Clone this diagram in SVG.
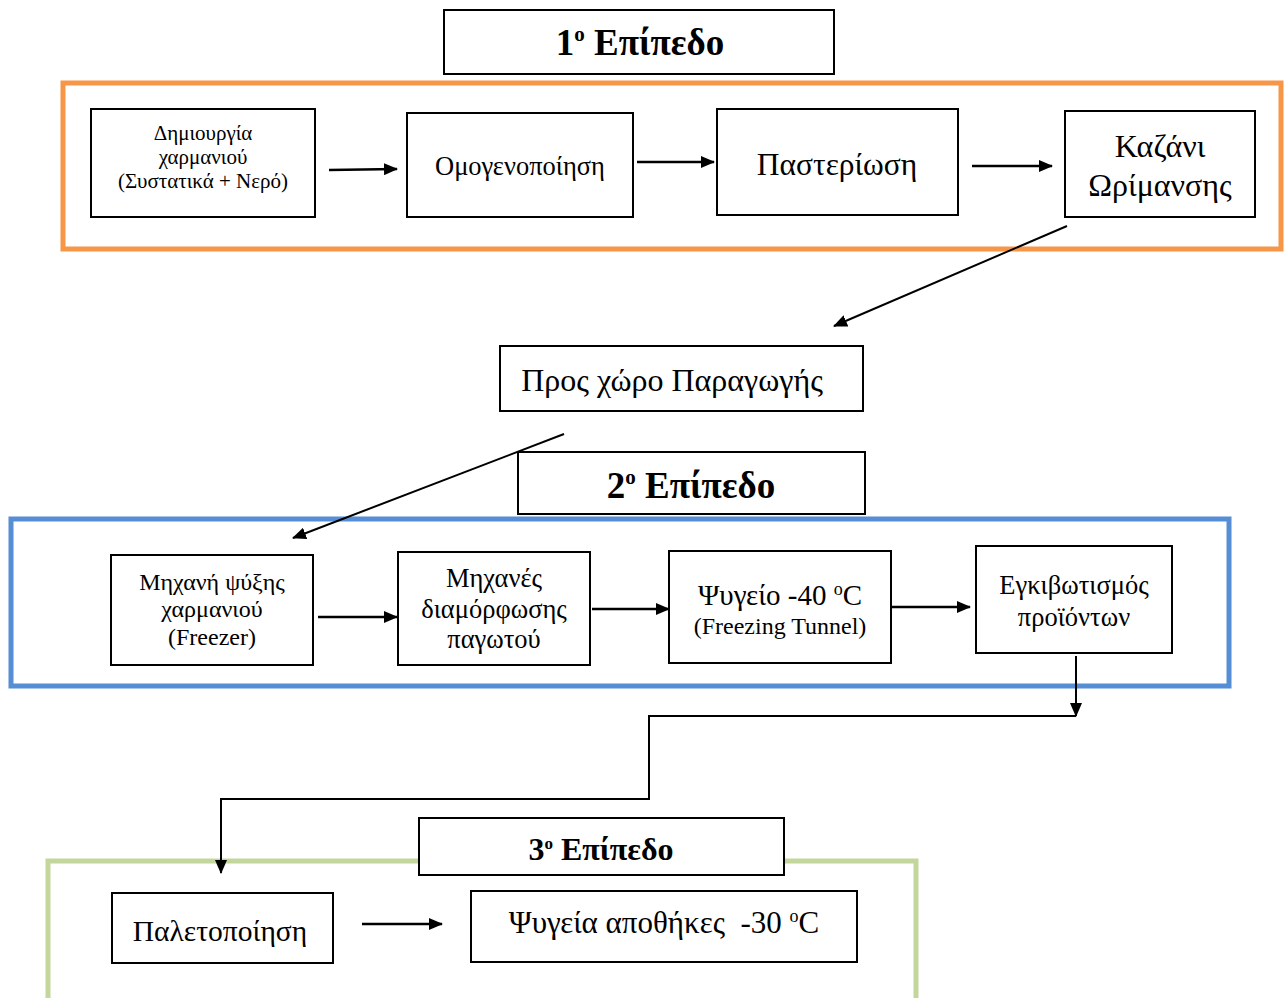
<svg xmlns="http://www.w3.org/2000/svg" width="1288" height="998" viewBox="0 0 1288 998">
<defs>
<marker id="ah" markerWidth="14" markerHeight="12" refX="13" refY="6" orient="auto" markerUnits="userSpaceOnUse">
<path d="M0,0 L14,6 L0,12 Z" fill="#000"/>
</marker>
<style>
.box{fill:#fff;stroke:#000;stroke-width:2}
.t{font-family:"Liberation Serif","Times New Roman",serif;fill:#000;text-anchor:middle}
.h{font-weight:bold}
.c{fill:none;stroke:#000;stroke-width:2.5}
.c2{fill:none;stroke:#000;stroke-width:2}
.frame{fill:none;stroke-width:5}
</style>
</defs>
<rect width="1288" height="998" fill="#fff"/>

<g id="frames">
<rect class="frame" x="63" y="83" width="1218" height="166" stroke="#F79646"/>
<rect class="frame" x="11" y="519" width="1218" height="167" stroke="#558ED5"/>
<path class="frame" d="M48,1000 V861 H916 V1000" stroke="#C3D69B"/>
</g>

<g id="title1">
<rect class="box" x="444" y="10" width="390" height="64"/>
<text class="t h" x="640" y="55" font-size="37">1<tspan font-size="21" dy="-14">ο</tspan><tspan dy="14"> Επίπεδο</tspan></text>
</g>

<g id="n1">
<rect class="box" x="91" y="109" width="224" height="108"/>
<text class="t" x="203" y="140" font-size="21">Δημιουργία</text>
<text class="t" x="203" y="164" font-size="21">χαρμανιού</text>
<text class="t" x="203" y="188" font-size="21">(Συστατικά + Νερό)</text>
</g>
<g id="n2">
<rect class="box" x="407" y="113" width="226" height="104"/>
<text class="t" x="520" y="175" font-size="26.5">Ομογενοποίηση</text>
</g>
<g id="n3">
<rect class="box" x="717" y="109" width="241" height="106"/>
<text class="t" x="837" y="175" font-size="31.5">Παστερίωση</text>
</g>
<g id="n4">
<rect class="box" x="1065" y="111" width="190" height="106"/>
<text class="t" x="1160" y="157" font-size="32">Καζάνι</text>
<text class="t" x="1160" y="196" font-size="32">Ωρίμανσης</text>
</g>

<g id="n5">
<rect class="box" x="500" y="346" width="363" height="65"/>
<text class="t" x="672" y="391" font-size="32">Προς χώρο Παραγωγής</text>
</g>

<g id="title2">
<rect class="box" x="518" y="452" width="347" height="62"/>
<text class="t h" x="691" y="498" font-size="37">2<tspan font-size="21" dy="-14">ο</tspan><tspan dy="14"> Επίπεδο</tspan></text>
</g>

<g id="n6">
<rect class="box" x="111" y="555" width="202" height="110"/>
<text class="t" x="212" y="590" font-size="24">Μηχανή ψύξης</text>
<text class="t" x="212" y="617" font-size="24">χαρμανιού</text>
<text class="t" x="212" y="645" font-size="24">(Freezer)</text>
</g>
<g id="n7">
<rect class="box" x="398" y="552" width="192" height="113"/>
<text class="t" x="494" y="587" font-size="26.5">Μηχανές</text>
<text class="t" x="494" y="618" font-size="26.5">διαμόρφωσης</text>
<text class="t" x="494" y="648" font-size="26.5">παγωτού</text>
</g>
<g id="n8">
<rect class="box" x="669" y="551" width="222" height="112"/>
<text class="t" x="780" y="605" font-size="29">Ψυγείο -40 <tspan font-size="18" dy="-10">ο</tspan><tspan dy="10">C</tspan></text>
<text class="t" x="780" y="634" font-size="24">(Freezing Tunnel)</text>
</g>
<g id="n9">
<rect class="box" x="976" y="546" width="196" height="107"/>
<text class="t" x="1074" y="594" font-size="26.5">Εγκιβωτισμός</text>
<text class="t" x="1074" y="626" font-size="26.5">προϊόντων</text>
</g>

<g id="title3">
<rect class="box" x="419" y="818" width="365" height="57"/>
<text class="t h" x="601" y="860" font-size="32">3<tspan font-size="17" dy="-11">ο</tspan><tspan dy="11"> Επίπεδο</tspan></text>
</g>

<g id="n10">
<rect class="box" x="112" y="893" width="221" height="70"/>
<text class="t" x="220" y="941" font-size="29.5">Παλετοποίηση</text>
</g>
<g id="n11">
<rect class="box" x="471" y="891" width="386" height="71"/>
<text class="t" x="664" y="933" font-size="31" xml:space="preserve">Ψυγεία αποθήκες  -30 <tspan font-size="18" dy="-11">ο</tspan><tspan dy="11">C</tspan></text>
</g>

<g id="connectors">
<line class="c" x1="329" y1="170" x2="397" y2="169" marker-end="url(#ah)"/>
<line class="c" x1="637" y1="162" x2="714" y2="162" marker-end="url(#ah)"/>
<line class="c" x1="972" y1="166" x2="1052" y2="166" marker-end="url(#ah)"/>
<line class="c2" x1="1067" y1="226" x2="834" y2="326" marker-end="url(#ah)"/>
<line class="c2" x1="564" y1="434" x2="293" y2="538" marker-end="url(#ah)"/>
<line class="c" x1="318" y1="617" x2="397" y2="617" marker-end="url(#ah)"/>
<line class="c" x1="592" y1="609" x2="669" y2="609" marker-end="url(#ah)"/>
<line class="c" x1="891" y1="607" x2="970" y2="607" marker-end="url(#ah)"/>
<line class="c2" x1="1076" y1="656" x2="1076" y2="716" marker-end="url(#ah)"/>
<polyline class="c2" points="1076,716 649,716 649,799 221,799 221,873" marker-end="url(#ah)"/>
<line class="c" x1="362" y1="924" x2="442" y2="924" marker-end="url(#ah)"/>
</g>
</svg>
